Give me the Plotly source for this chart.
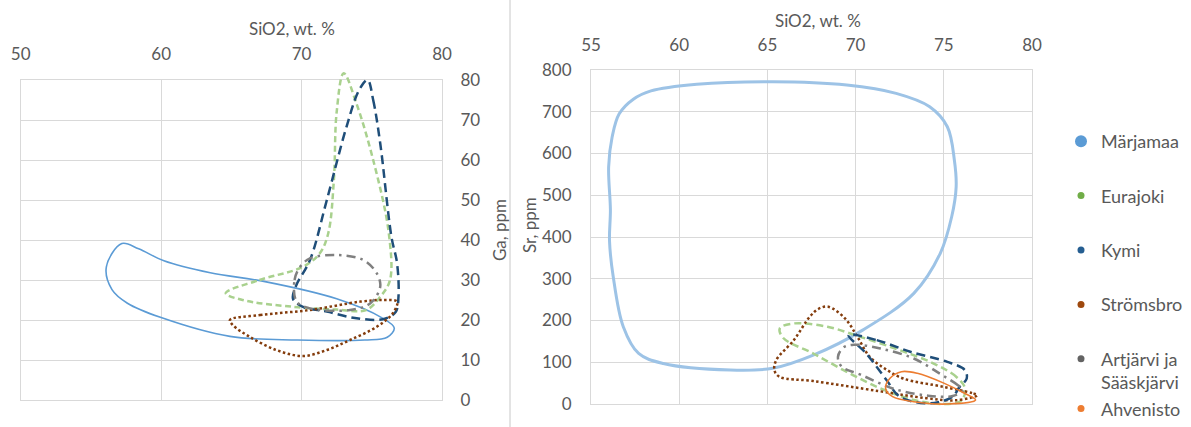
import plotly.graph_objects as go

# ---------------- data: outlines of the compositional fields ----------------
# Ga (ppm) versus SiO2 (wt. %)
ga_marjamaa_sio2 = [76.6, 75.7, 72.5, 67.4, 63.5, 60.2, 58.4, 57.2, 56.1, 56.5, 57.6, 60.0, 64.9, 69.7, 74.5, 76.1, 76.6]
ga_marjamaa_ga = [18.0, 20.6, 25.3, 29.6, 31.8, 34.8, 37.8, 39.1, 33.3, 27.6, 24.2, 20.6, 15.9, 15.0, 15.0, 15.7, 18.0]

ga_eurajoki_sio2 = [64.6, 67.0, 70.1, 71.3, 71.9, 72.3, 72.5, 73.0, 73.9, 75.1, 76.2, 76.3, 75.6, 74.6, 72.5, 69.4, 65.8, 64.6]
ga_eurajoki_ga = [26.7, 30.0, 33.3, 36.7, 41.7, 55.0, 72.0, 81.7, 74.2, 60.0, 42.0, 30.0, 25.8, 22.5, 22.6, 23.3, 25.0, 26.7]

ga_kymi_sio2 = [74.7, 75.1, 75.6, 76.4, 76.8, 76.9, 76.7, 75.8, 73.8, 71.8, 70.1, 69.4, 69.6, 70.6, 71.8, 73.2, 74.1, 74.7]
ga_kymi_ga = [80.0, 75.0, 64.2, 40.8, 34.2, 25.8, 22.0, 20.2, 20.5, 22.1, 23.3, 25.2, 28.5, 35.0, 50.0, 68.3, 77.5, 80.0]

ga_stromsbro_sio2 = [64.9, 67.05, 70.6, 74.2, 75.8, 76.8, 76.5, 75.35, 73.45, 71.8, 70.1, 68.2, 66.3, 65.1, 64.9]
ga_stromsbro_ga = [20.0, 21.25, 22.5, 24.6, 25.0, 24.6, 21.7, 18.3, 15.0, 12.5, 11.0, 12.5, 15.8, 18.75, 20.0]

ga_artjarvi_sio2 = [69.65, 69.5, 69.9, 70.6, 72.5, 74.4, 75.35, 75.6, 74.9, 73.45, 70.6, 69.65]
ga_artjarvi_ga = [24.6, 30.0, 33.3, 35.4, 36.25, 35.0, 31.7, 28.3, 24.2, 22.5, 22.9, 24.6]

# Sr (ppm) versus SiO2 (wt. %)
sr_marjamaa_sio2 = [56.1, 56.0, 56.2, 56.6, 57.4, 58.4, 61.0, 65.3, 69.5, 72.3, 74.2, 75.2, 75.6, 75.7, 75.45, 74.8,
                    73.3, 70.4, 67.6, 65.3, 62.9, 59.1, 57.7, 56.83, 56.26, 56.05, 56.1]
sr_marjamaa_sr = [465, 568, 640, 695, 730, 750, 766, 772, 764, 744, 712, 664, 584, 520, 449, 361,
                  265, 177, 117, 85.5, 81.4, 97, 121, 185, 305, 390, 465]

sr_eurajoki_sio2 = [76.2, 75.7, 74.4, 72.5, 70.25, 68.4, 66.5, 65.7, 65.9, 67.6, 69.5, 71.4, 73.3, 75.0, 76.0, 76.2]
sr_eurajoki_sr = [37.6, 65.4, 97.5, 129, 161, 185, 193, 181, 158, 121, 77, 37.6, 9.6, 0, 8, 37.6]

sr_kymi_sio2 = [69.6, 71.2, 73.1, 75.2, 76.2, 76.3, 75.9, 75.5, 74.8, 74.0, 72.5, 71.76, 70.6, 69.6]
sr_kymi_sr = [165, 153, 125, 101, 81, 61, 41, 17.5, 5.5, 1.6, 17.5, 57, 121, 165]

sr_stromsbro_sio2 = [76.9, 76.6, 75.0, 72.7, 71.8, 70.8, 70.1, 69.4, 68.45, 67.9, 67.4, 66.5, 65.5, 65.4, 65.7, 67.6,
                     71.3, 74.0, 75.7, 76.9]
sr_stromsbro_sr = [21, 26, 41, 61, 81, 113, 161, 205, 233, 228, 209, 153, 105, 80, 65, 55, 31, 14, 9, 21]

sr_artjarvi_sio2 = [76.1, 75.8, 74.8, 73.3, 71.4, 69.9, 69.3, 69.0, 69.2, 70.3, 72.2, 74.1, 75.5, 76.1]
sr_artjarvi_sr = [33, 45, 72, 109, 133, 142, 135, 113, 90, 70, 36, 20, 19, 33]

sr_ahvenisto_sio2 = [76.8, 76.2, 75.0, 73.5, 72.6, 71.95, 71.7, 72.1, 73.3, 75.2, 76.8]
sr_ahvenisto_sr = [9.6, 25, 50, 73.5, 77.4, 61.5, 37.6, 17.5, 5.5, 0, 9.6]

# axis ticks
ga_x_ticks = [50, 60, 70, 80]
ga_y_ticks = [0, 10, 20, 30, 40, 50, 60, 70, 80]
sr_x_ticks = [55, 60, 65, 70, 75, 80]
sr_y_ticks = [0, 100, 200, 300, 400, 500, 600, 700, 800]

# legend entries
legend_names = ["Märjamaa", "Eurajoki", "Kymi", "Strömsbro", "Artjärvi ja<br>Sääskjärvi", "Ahvenisto"]

# ---------------- layout geometry ----------------
W, H = 1191, 427
GA_BOX = (20.7, 80, 442, 400)    # left, top, right, bottom (px)
SR_BOX = (591, 70, 1032, 404)
PAD = 14                          # room for outlines that spill just past the frame

GA_XR, GA_YR = [50, 80], [0, 80]
SR_XR, SR_YR = [55, 80], [0, 800]


def xdom(box, pad=0):
    return [(box[0] - pad) / W, (box[2] + pad) / W]


def ydom(box, pad=0):
    return [(H - box[3] - pad) / H, (H - box[1] + pad) / H]


def widen(rng, length, pad):
    d = (rng[1] - rng[0]) * pad / length
    return [rng[0] - d, rng[1] + d]


TEXT = "#595959"
TICKFONT = dict(family="Lato", size=17, color=TEXT)
GRID = "#D9D9D9"

fig = go.Figure()

# empty traces that register the two framed subplots (x/y and x2/y2)
fig.add_trace(go.Scatter(x=[None], y=[None], mode="lines", showlegend=False, hoverinfo="skip",
                         xaxis="x", yaxis="y"))
fig.add_trace(go.Scatter(x=[None], y=[None], mode="lines", showlegend=False, hoverinfo="skip",
                         xaxis="x2", yaxis="y2"))

# --- Ga panel (traces live on the padded x3/y3 pair) ---
ga_series = [
    (ga_marjamaa_sio2, ga_marjamaa_ga, "Märjamaa", "#5B9BD5", 1.6, "solid"),
    (ga_eurajoki_sio2, ga_eurajoki_ga, "Eurajoki", "#A9D18E", 2.5, "6px,3.5px"),
    (ga_kymi_sio2, ga_kymi_ga, "Kymi", "#1F4E79", 2.5, "9px,5px"),
    (ga_stromsbro_sio2, ga_stromsbro_ga, "Strömsbro", "#843C0C", 2.5, "2.5px,2.5px"),
    (ga_artjarvi_sio2, ga_artjarvi_ga, "Artjärvi ja Sääskjärvi", "#808080", 2.5, "9px,5px,2.5px,5px"),
]
for xs, ys, name, col, w, dash in ga_series:
    fig.add_trace(go.Scatter(x=xs, y=ys, name=name, mode="lines", showlegend=False,
                             line=dict(color=col, width=w, dash=dash, shape="spline", smoothing=1),
                             xaxis="x3", yaxis="y3", hoverinfo="skip"))

# --- Sr panel (traces on the padded x4/y4 pair) ---
sr_series = [
    (sr_marjamaa_sio2, sr_marjamaa_sr, "Märjamaa", "#9DC3E6", 3, "solid"),
    (sr_eurajoki_sio2, sr_eurajoki_sr, "Eurajoki", "#A9D18E", 2.5, "7px,4px"),
    (sr_stromsbro_sio2, sr_stromsbro_sr, "Strömsbro", "#843C0C", 2.5, "2.5px,2.5px"),
    (sr_kymi_sio2, sr_kymi_sr, "Kymi", "#1F4E79", 2.5, "9px,5px"),
    (sr_artjarvi_sio2, sr_artjarvi_sr, "Artjärvi ja Sääskjärvi", "#808080", 2.5, "9px,5px,2.5px,5px"),
    (sr_ahvenisto_sio2, sr_ahvenisto_sr, "Ahvenisto", "#ED7D31", 1.6, "solid"),
]
for xs, ys, name, col, w, dash in sr_series:
    fig.add_trace(go.Scatter(x=xs, y=ys, name=name, mode="lines", showlegend=False,
                             line=dict(color=col, width=w, dash=dash, shape="spline", smoothing=1),
                             xaxis="x4", yaxis="y4", hoverinfo="skip"))

# --- legend keys ---
legend_colors = ["#5B9BD5", "#70AD47", "#255E91", "#9E480E", "#636363", "#ED7D31"]
legend_sizes = [12, 7, 7, 7, 7, 7]
legend_groups = ["g1", "g2", "g3", "g4", "g5", "g5"]
for name, col, size, grp in zip(legend_names, legend_colors, legend_sizes, legend_groups):
    fig.add_trace(go.Scatter(x=[None], y=[None], name=name, mode="markers", legendgroup=grp,
                             marker=dict(color=col, size=size), xaxis="x3", yaxis="y3"))

common = dict(showgrid=True, gridcolor=GRID, gridwidth=1, showline=True, mirror=True,
              linecolor=GRID, linewidth=1, zeroline=False, ticks="", tickfont=TICKFONT,
              fixedrange=True, visible=True, automargin=False)
hidden = dict(visible=False, fixedrange=True, automargin=False)

fig.update_layout(
    template="none",
    width=W, height=H, autosize=False,
    margin=dict(l=0, r=0, t=0, b=0, pad=0),
    paper_bgcolor="white", plot_bgcolor="rgba(0,0,0,0)",
    font=dict(family="Lato", color=TEXT),
    xaxis=dict(domain=xdom(GA_BOX), range=GA_XR, tickvals=ga_x_ticks, side="top", anchor="y",
               ticklabelstandoff=12, **common),
    yaxis=dict(domain=ydom(GA_BOX), range=GA_YR, tickvals=ga_y_ticks, side="right", anchor="x",
               ticklabelstandoff=14, **common),
    xaxis2=dict(domain=xdom(SR_BOX), range=SR_XR, tickvals=sr_x_ticks, side="top", anchor="y2",
                ticklabelstandoff=11, **common),
    yaxis2=dict(domain=ydom(SR_BOX), range=SR_YR, tickvals=sr_y_ticks, side="left", anchor="x2",
                ticklabelstandoff=15, **common),
    xaxis3=dict(domain=xdom(GA_BOX, PAD), range=widen(GA_XR, GA_BOX[2] - GA_BOX[0], PAD),
                anchor="y3", **hidden),
    yaxis3=dict(domain=ydom(GA_BOX, PAD), range=widen(GA_YR, GA_BOX[3] - GA_BOX[1], PAD),
                anchor="x3", **hidden),
    xaxis4=dict(domain=xdom(SR_BOX, PAD), range=widen(SR_XR, SR_BOX[2] - SR_BOX[0], PAD),
                anchor="y4", **hidden),
    yaxis4=dict(domain=ydom(SR_BOX, PAD), range=widen(SR_YR, SR_BOX[3] - SR_BOX[1], PAD),
                anchor="x4", **hidden),
    legend=dict(x=1061 / W, y=0, xanchor="left", yanchor="bottom",
                font=dict(family="Lato", size=18, color=TEXT),
                traceorder="grouped", tracegroupgap=28, itemsizing="trace", valign="top",
                bgcolor="rgba(0,0,0,0)", borderwidth=0),
    showlegend=True,
)

# axis titles
titles = [
    ("SiO2, wt. %", 292, 29, 0),
    ("Ga, ppm", 499, 230, -90),
    ("SiO2, wt. %", 818, 20, 0),
    ("Sr, ppm", 529, 225, -90),
]
for text, px, py, ang in titles:
    fig.add_annotation(text=text, x=px / W, y=1 - py / H, xref="paper", yref="paper",
                       showarrow=False, textangle=ang, xanchor="center", yanchor="middle",
                       font=dict(family="Lato", size=17, color=TEXT))

# divider between the two charts
fig.add_shape(type="line", xref="paper", yref="paper", x0=510 / W, x1=510 / W, y0=0, y1=1,
              line=dict(color="#C8C8C8", width=1))

fig.write_html("out.html")
